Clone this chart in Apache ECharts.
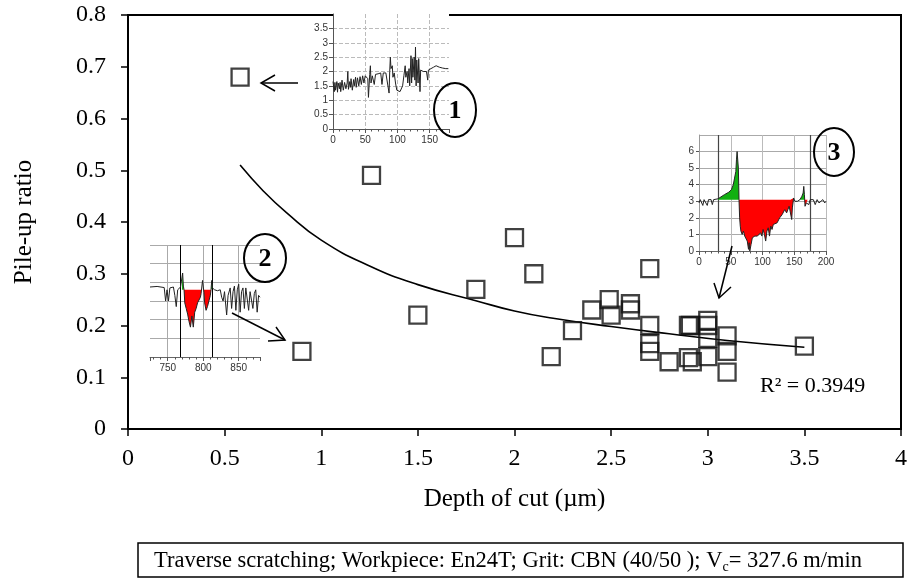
<!DOCTYPE html>
<html><head><meta charset="utf-8">
<script src="https://cdn.jsdelivr.net/npm/echarts@6.0.0/dist/echarts.min.js"></script>
<style>html,body{margin:0;padding:0;background:#fff}#c{width:917px;height:588px}</style>
</head><body><div id="c"></div>
<script>
// ---------- main scatter data ----------
const depth = [0.58, 1.26, 0.90, 1.50, 1.80, 2.00, 2.10, 2.19, 2.30, 2.40, 2.49, 2.50, 2.60, 2.60, 2.70, 2.70, 2.70, 2.70, 2.80, 2.90, 2.91, 2.90, 2.92, 3.00, 3.00, 3.00, 3.00, 3.10, 3.10, 3.10, 3.50];
const ratio = [0.68, 0.49, 0.15, 0.22, 0.27, 0.37, 0.30, 0.14, 0.19, 0.23, 0.25, 0.22, 0.242, 0.23, 0.31, 0.20, 0.165, 0.15, 0.13, 0.20, 0.20, 0.138, 0.13, 0.21, 0.20, 0.175, 0.14, 0.18, 0.15, 0.11, 0.16];
// trend curve
const trendX = [0.58, 0.70, 0.82, 1.00, 1.25, 1.50, 1.80, 2.00, 2.20, 2.50, 2.80, 3.10, 3.50];
const trendY = [0.51, 0.46, 0.418, 0.365, 0.315, 0.279, 0.248, 0.228, 0.214, 0.198, 0.184, 0.171, 0.158];
const xTicks = [0, 0.5, 1, 1.5, 2, 2.5, 3, 3.5, 4];
const yTicks = [0, 0.1, 0.2, 0.3, 0.4, 0.5, 0.6, 0.7, 0.8];
const r2Text = 'R² = 0.3949';
const xTitle = 'Depth of cut (µm)';
const yTitle = 'Pile-up ratio';

// ---------- inset 1 profile ----------
const profile1 = [[0,1.65],[2,1.3],[3,1.62],[4,1.35],[6,1.65],[7,1.28],[8,1.6],[10,1.4],[11,1.62],[12,1.3],[14,1.7],[16,1.35],[18,1.62],[20,1.4],[22,1.6],[23,2.0],[24,1.38],[26,1.65],[27,1.45],[28,1.75],[30,1.35],[32,1.72],[33,1.5],[35,1.8],[36,1.45],[38,1.78],[40,1.5],[42,1.82],[44,1.55],[46,1.85],[48,1.6],[50,1.85],[52,1.8],[54,1.75],[55,1.1],[57,1.9],[58,2.2],[59,1.6],[61,1.85],[63,1.9],[64,1.55],[66,1.9],[70,1.92],[74,1.95],[76,1.55],[78,1.95],[82,1.95],[85,1.92],[87,1.25],[88,2.0],[89,2.5],[90,2.1],[92,2.2],[93,1.8],[95,1.95],[97,1.6],[99,1.35],[101,1.3],[104,1.3],[106,1.28],[108,1.5],[110,1.85],[112,2.2],[113,1.8],[115,2.0],[116,1.6],[118,2.1],[119,1.5],[121,2.55],[122,1.6],[123,2.45],[124,1.8],[126,2.5],[127,1.7],[128,2.85],[129,1.5],[130,2.4],[132,1.6],[133,2.45],[135,1.3],[136,2.05],[138,2.0],[140,2.0],[142,2.05],[145,2.0],[147,1.7],[148,2.05],[152,2.1],[156,2.15],[160,2.2],[165,2.15],[170,2.12],[175,2.1],[179,2.1]];

// ---------- inset 2 profile ----------
const profile2 = [[725,3.75],[735,3.78],[745,3.72],[747,3.0],[749,3.6],[751,3.0],[753,3.7],[758,3.75],[760,3.3],[762,2.7],[764,3.6],[768,3.75],[770,3.8],[771,4.5],[772,3.8],[773,3.6],[774,2.9],[776,2.6],[778,2.3],[780,1.9],[782,1.6],[784,2.2],[786,1.6],[788,2.4],[790,2.6],[792,2.9],[794,2.8],[796,3.2],[797,3.4],[799,4.1],[801,3.45],[802,2.9],[804,2.5],[806,2.7],[808,2.6],[810,3.3],[811,3.6],[812,4.1],[813,3.7],[816,3.6],[820,3.55],[824,3.6],[826,3.2],[828,3.0],[830,3.5],[832,3.4],[833,2.25],[835,3.3],[838,3.7],[840,2.6],[842,3.5],[844,3.8],[846,2.5],[848,3.6],[850,3.9],[852,2.4],[854,3.5],[856,3.7],[858,2.6],[860,3.7],[862,3.8],[864,2.5],[866,3.5],[868,3.6],[870,2.6],[872,3.4],[874,3.6],[876,2.4],[878,3.3],[880,3.2]];
const base2 = 3.6;
const green2Ranges = [[770,772],[798,800],[811,813]];
const red2Ranges = [[772,797],[801,811]];
const markers2 = [768, 813];

// ---------- inset 3 profile ----------
const profile3 = [[0,2.9],[2,3.1],[4,3.0],[6,2.75],[8,3.1],[11,3.1],[13,2.75],[15,3.1],[19,3.1],[21,2.8],[23,3.1],[30,3.15],[32,3.25],[40,3.4],[47,3.55],[51,3.7],[54,4.0],[56,4.4],[58,4.8],[59,5.5],[60,6.0],[61,5.9],[62,5.0],[63,3.1],[64,2.0],[65,1.5],[66,1.2],[68,1.0],[70,1.2],[72,0.9],[74,1.0],[76,0.6],[78,0.1],[79,0.5],[80,0.0],[82,0.4],[84,0.8],[86,0.7],[88,0.9],[90,1.0],[92,0.9],[95,1.0],[97,1.1],[99,0.9],[101,1.3],[103,1.0],[105,0.6],[107,1.2],[109,1.4],[111,0.9],[113,1.5],[115,1.3],[117,1.6],[120,1.6],[123,1.7],[125,1.7],[127,2.0],[129,1.9],[131,2.2],[133,2.1],[135,2.5],[138,2.3],[140,2.5],[142,2.7],[144,2.6],[146,1.9],[147,2.6],[149,3.2],[151,3.0],[155,3.0],[159,3.1],[162,3.3],[164,3.5],[165,3.9],[166,3.4],[167,2.7],[169,2.9],[171,3.0],[173,2.8],[175,3.1],[178,3.0],[180,3.1],[183,2.8],[186,3.1],[189,2.9],[192,3.0],[195,3.1],[198,2.9],[200,3.0]];
const base3 = 3.1;
const green3Ranges = [[30,63],[159,166]];
const red3Ranges = [[63,149],[166,171]];
const markers3 = [31, 175];

const legendMain = 'Traverse scratching; Workpiece: En24T; Grit: CBN (40/50 ); V';
const legendSub = 'c';
const legendTail = '= 327.6 m/min';

const SERIF = 'Liberation Serif';
const SANS = 'Liberation Sans';

function inRange(profile, r) { return profile.filter(p => p[0] >= r[0] && p[0] <= r[1]); }
function fillSeries(profile, ranges, base, color, axisIdx) {
  return ranges.map(r => ({
    type: 'line', xAxisIndex: axisIdx, yAxisIndex: axisIdx, data: inRange(profile, r),
    showSymbol: false, silent: true, z: 5,
    lineStyle: { width: 0, opacity: 0 },
    areaStyle: { color: color, opacity: 1, origin: base }
  }));
}
function insetLabel(extra) { return Object.assign({ fontFamily: SANS, fontSize: 10, color: '#333' }, extra || {}); }

const chart = echarts.init(document.getElementById('c'), null, { renderer: 'canvas' });

const option = {
  animation: false,
  backgroundColor: '#fff',
  grid: [
    { left: 128, right: 16, top: 15, bottom: 159, show: true, borderColor: '#000', borderWidth: 2, backgroundColor: 'transparent' },
    { left: 333, top: 14, width: 116, height: 115, show: true, backgroundColor: '#fff', borderWidth: 0, z: 3 },
    { left: 150, top: 245, width: 110, height: 112, z: 3 },
    { left: 699, top: 135, width: 127, height: 116, z: 3 }
  ],
  xAxis: [
    { gridIndex: 0, type: 'value', min: xTicks[0], max: xTicks[xTicks.length - 1], interval: xTicks[1] - xTicks[0],
      axisLine: { lineStyle: { color: '#000', width: 2 } },
      axisTick: { inside: false, length: 7, lineStyle: { color: '#000', width: 1.5 } },
      axisLabel: { fontFamily: SERIF, fontSize: 24, color: '#000', margin: 18 },
      splitLine: { show: false },
      name: xTitle, nameLocation: 'middle', nameGap: 58,
      nameTextStyle: { fontFamily: SERIF, fontSize: 25, color: '#000' } },
    { gridIndex: 1, type: 'value', min: 0, max: 180, interval: 50, z: 4,
      axisLine: { lineStyle: { color: '#555', width: 1 } },
      axisTick: { length: 4, lineStyle: { color: '#555' } },
      minorTick: { show: true, splitNumber: 5, length: 2.5, lineStyle: { color: '#555' } },
      axisLabel: insetLabel({ margin: 6, showMaxLabel: false }),
      splitLine: { show: true, showMaxLine: false, lineStyle: { type: 'dashed', color: '#bbb', width: 1 } } },
    { gridIndex: 2, type: 'value', min: 725, max: 880, splitNumber: 3, z: 4,
      axisLine: { lineStyle: { color: '#666', width: 1 } },
      axisTick: { length: 4, lineStyle: { color: '#555' } },
      minorTick: { show: true, splitNumber: 5, length: 2.5, lineStyle: { color: '#555' } },
      axisLabel: insetLabel({ margin: 6, showMinLabel: false, showMaxLabel: false }),
      splitLine: { show: true, showMinLine: false, showMaxLine: false, lineStyle: { color: '#aaa', width: 1 } } },
    { gridIndex: 3, type: 'value', min: 0, max: 200, interval: 50, z: 4,
      axisLine: { lineStyle: { color: '#666', width: 1 } },
      axisTick: { length: 4, lineStyle: { color: '#555' } },
      minorTick: { show: true, splitNumber: 5, length: 2.5, lineStyle: { color: '#555' } },
      axisLabel: insetLabel({ margin: 6 }),
      splitLine: { show: true, lineStyle: { color: '#bbb', width: 1 } } }
  ],
  yAxis: [
    { gridIndex: 0, type: 'value', min: yTicks[0], max: yTicks[yTicks.length - 1], interval: 0.1,
      axisLine: { show: true, lineStyle: { color: '#000', width: 2 } },
      axisTick: { show: true, inside: false, length: 7, lineStyle: { color: '#000', width: 1.5 } },
      axisLabel: { fontFamily: SERIF, fontSize: 24, color: '#000', margin: 22, formatter: v => String(+v.toFixed(1)) },
      splitLine: { show: false },
      name: yTitle, nameLocation: 'middle', nameGap: 91,
      nameTextStyle: { fontFamily: SERIF, fontSize: 25, color: '#000' } },
    { gridIndex: 1, type: 'value', min: 0, max: 4, interval: 0.5, z: 4,
      axisLine: { show: true, lineStyle: { color: '#555', width: 1 } },
      axisTick: { show: true, length: 4, lineStyle: { color: '#555' } },
      axisLabel: insetLabel({ margin: 5, showMaxLabel: false }),
      splitLine: { show: true, showMaxLine: false, lineStyle: { type: 'dashed', color: '#bbb', width: 1 } } },
    { gridIndex: 2, type: 'value', min: 0, max: 6, interval: 1, z: 4,
      axisLine: { show: false }, axisTick: { show: false }, axisLabel: { show: false },
      splitLine: { show: true, lineStyle: { color: '#aaa', width: 1 } } },
    { gridIndex: 3, type: 'value', min: 0, max: 7, interval: 1, z: 4,
      axisLine: { show: true, lineStyle: { color: '#999', width: 1 } },
      axisTick: { show: true, length: 3, lineStyle: { color: '#555' } },
      axisLabel: insetLabel({ margin: 5, showMaxLabel: false }),
      splitLine: { show: true, lineStyle: { color: '#aaa', width: 1 } } }
  ],
  series: [
    { type: 'line', xAxisIndex: 0, yAxisIndex: 0, data: trendX.map((x, i) => [x, trendY[i]]),
      smooth: true, showSymbol: false, silent: true, z: 2,
      lineStyle: { color: '#000', width: 1.6 } },
    { type: 'scatter', xAxisIndex: 0, yAxisIndex: 0, data: depth.map((x, i) => [x, ratio[i]]),
      symbol: 'rect', symbolSize: 17, z: 3,
      itemStyle: { color: 'rgba(0,0,0,0)', borderColor: '#111', borderWidth: 2.3 } },
    { type: 'line', xAxisIndex: 1, yAxisIndex: 1, data: profile1, showSymbol: false, silent: true, z: 5,
      lineStyle: { color: '#222', width: 1 } },
    ...fillSeries(profile2, red2Ranges, base2, '#ff0000', 2),
    ...fillSeries(profile2, green2Ranges, base2, '#11b011', 2),
    { type: 'line', xAxisIndex: 2, yAxisIndex: 2, data: profile2, showSymbol: false, silent: true, z: 6,
      lineStyle: { color: '#222', width: 1 },
      markLine: { silent: true, symbol: ['none', 'none'], label: { show: false },
        lineStyle: { color: '#000', width: 1, type: 'solid' }, data: markers2.map(v => ({ xAxis: v })) } },
    ...fillSeries(profile3, red3Ranges, base3, '#ff0000', 3),
    ...fillSeries(profile3, green3Ranges, base3, '#11b011', 3),
    { type: 'line', xAxisIndex: 3, yAxisIndex: 3, data: profile3, showSymbol: false, silent: true, z: 6,
      lineStyle: { color: '#222', width: 1 },
      markLine: { silent: true, symbol: ['none', 'none'], label: { show: false },
        lineStyle: { color: '#444', width: 1.2, type: 'solid' }, data: markers3.map(v => ({ xAxis: v })) } }
  ],
  graphic: [
    // circled numbers
    { type: 'ellipse', z: 100, shape: { cx: 455, cy: 110, rx: 21, ry: 27 }, style: { fill: null, stroke: '#000', lineWidth: 2 } },
    { type: 'text', z: 100, x: 455, y: 111, style: { text: '1', font: 'bold 26px "Liberation Serif"', fill: '#000', textAlign: 'center', textVerticalAlign: 'middle', verticalAlign: 'middle' } },
    { type: 'ellipse', z: 100, shape: { cx: 265, cy: 258, rx: 21, ry: 24 }, style: { fill: null, stroke: '#000', lineWidth: 2 } },
    { type: 'text', z: 100, x: 265, y: 259, style: { text: '2', font: 'bold 26px "Liberation Serif"', fill: '#000', textAlign: 'center', textVerticalAlign: 'middle', verticalAlign: 'middle' } },
    { type: 'ellipse', z: 100, shape: { cx: 834, cy: 152, rx: 20, ry: 24 }, style: { fill: null, stroke: '#000', lineWidth: 2 } },
    { type: 'text', z: 100, x: 834, y: 153, style: { text: '3', font: 'bold 26px "Liberation Serif"', fill: '#000', textAlign: 'center', textVerticalAlign: 'middle', verticalAlign: 'middle' } },
    // arrows
    { type: 'polyline', z: 100, shape: { points: [[298, 83], [261, 83]] }, style: { stroke: '#000', lineWidth: 1.5, fill: null } },
    { type: 'polyline', z: 100, shape: { points: [[275, 75], [261, 83], [275, 91]] }, style: { stroke: '#000', lineWidth: 1.5, fill: null } },
    { type: 'polyline', z: 100, shape: { points: [[232, 313], [285, 340]] }, style: { stroke: '#000', lineWidth: 1.5, fill: null } },
    { type: 'polyline', z: 100, shape: { points: [[276, 327], [285, 340], [268, 341]] }, style: { stroke: '#000', lineWidth: 1.5, fill: null } },
    { type: 'polyline', z: 100, shape: { points: [[732, 246], [719, 298]] }, style: { stroke: '#000', lineWidth: 1.5, fill: null } },
    { type: 'polyline', z: 100, shape: { points: [[714, 283], [719, 298], [731, 287]] }, style: { stroke: '#000', lineWidth: 1.5, fill: null } },
    // R squared
    { type: 'text', z: 100, x: 760, y: 386, style: { text: r2Text, font: '22px "Liberation Serif"', fill: '#000', textAlign: 'left', textVerticalAlign: 'middle', verticalAlign: 'middle' } },
    // caption box
    { type: 'rect', z: 100, shape: { x: 138, y: 543, width: 765, height: 34 }, style: { fill: null, stroke: '#000', lineWidth: 1.5 } },
    { type: 'text', z: 100, x: 508, y: 561, style: {
        text: '{a|' + legendMain + '}{s|' + legendSub + '}{a|' + legendTail + '}',
        textAlign: 'center', textVerticalAlign: 'middle', verticalAlign: 'middle', align: 'center',
        rich: { a: { fontFamily: SERIF, fontSize: 22.5, color: '#000', lineHeight: 26 },
                s: { fontFamily: SERIF, fontSize: 14, color: '#000', lineHeight: 26, padding: [12, 0, 0, 0] } } } }
  ]
};
chart.setOption(option);
</script>
</body></html>
